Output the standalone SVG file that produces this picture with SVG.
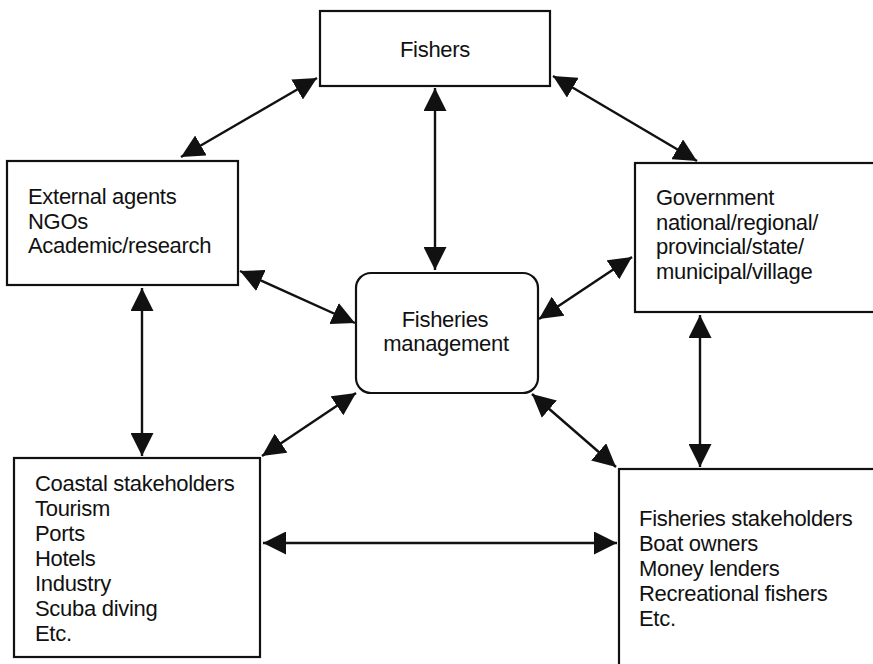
<svg xmlns="http://www.w3.org/2000/svg" width="873" height="664" viewBox="0 0 873 664">
  <style>
    .box { fill: #fff; stroke: #111; stroke-width: 2.2; }
    .lbl { font-family: "Liberation Sans", Arial, sans-serif; font-size: 22px; letter-spacing: -0.3px; fill: #111; }
    .mid { text-anchor: middle; }
    .link { stroke: #111; stroke-width: 2.4; fill: none; marker-start: url(#head); marker-end: url(#head); }
  </style>
  <defs>
    <marker id="head" markerUnits="userSpaceOnUse" markerWidth="23" markerHeight="23" viewBox="0 0 23 23" refX="23" refY="11.5" orient="auto-start-reverse">
      <path d="M0,0 L23,11.5 L0,23 z" fill="#111"/>
    </marker>
  </defs>
  <rect width="873" height="664" fill="#fff"/>

  <g id="connectors">
    <line class="link" x1="181" y1="157" x2="317" y2="78"/>
    <line class="link" x1="435" y1="88" x2="435" y2="270"/>
    <line class="link" x1="553" y1="76" x2="697" y2="161"/>
    <line class="link" x1="240" y1="271" x2="355" y2="323"/>
    <line class="link" x1="632" y1="257" x2="539" y2="319"/>
    <line class="link" x1="142" y1="288" x2="142" y2="456"/>
    <line class="link" x1="700" y1="315" x2="700" y2="467"/>
    <line class="link" x1="356" y1="393" x2="262" y2="456"/>
    <line class="link" x1="532" y1="394" x2="616" y2="467"/>
    <line class="link" x1="263" y1="543" x2="617" y2="543"/>
  </g>

  <g id="fishers">
    <rect class="box" x="320" y="11" width="230" height="75"/>
    <text class="lbl mid" x="435" y="57">Fishers</text>
  </g>

  <g id="external-agents">
    <rect class="box" x="7" y="161" width="231" height="124"/>
    <text class="lbl" x="28" y="204">External agents</text>
    <text class="lbl" x="28" y="229">NGOs</text>
    <text class="lbl" x="28" y="253">Academic/research</text>
  </g>

  <g id="government">
    <rect class="box" x="635" y="163" width="250" height="149"/>
    <text class="lbl" x="656" y="205">Government</text>
    <text class="lbl" x="656" y="230">national/regional/</text>
    <text class="lbl" x="656" y="254">provincial/state/</text>
    <text class="lbl" x="656" y="279">municipal/village</text>
  </g>

  <g id="fisheries-management">
    <rect class="box" x="356" y="273" width="182" height="120" rx="15" ry="15"/>
    <text class="lbl mid" x="445" y="327">Fisheries</text>
    <text class="lbl mid" x="446" y="351">management</text>
  </g>

  <g id="coastal-stakeholders">
    <rect class="box" x="14" y="458" width="246" height="199"/>
    <text class="lbl" x="35" y="491">Coastal stakeholders</text>
    <text class="lbl" x="35" y="516">Tourism</text>
    <text class="lbl" x="35" y="541">Ports</text>
    <text class="lbl" x="35" y="566">Hotels</text>
    <text class="lbl" x="35" y="591">Industry</text>
    <text class="lbl" x="35" y="616">Scuba diving</text>
    <text class="lbl" x="35" y="641">Etc.</text>
  </g>

  <g id="fisheries-stakeholders">
    <rect class="box" x="619" y="469" width="270" height="220"/>
    <text class="lbl" x="639" y="526">Fisheries stakeholders</text>
    <text class="lbl" x="639" y="551">Boat owners</text>
    <text class="lbl" x="639" y="576">Money lenders</text>
    <text class="lbl" x="639" y="601">Recreational fishers</text>
    <text class="lbl" x="639" y="626">Etc.</text>
  </g>
</svg>
